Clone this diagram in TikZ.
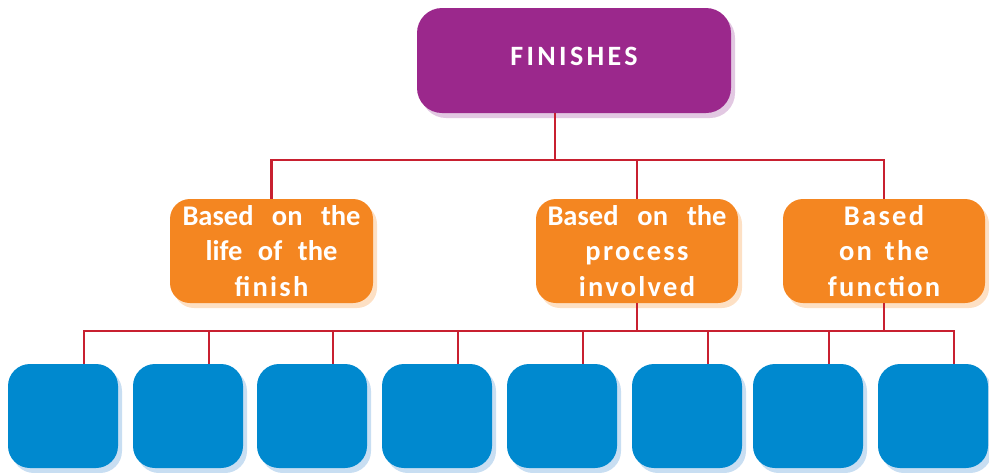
\documentclass[tikz,border=0pt]{standalone}
\usepackage{fontspec}
\setmainfont{Carlito}
\usetikzlibrary{shadows}
\definecolor{fpurple}{RGB}{155,40,140}
\definecolor{fpurpleS}{RGB}{226,200,226}
\definecolor{forange}{RGB}{244,134,33}
\definecolor{forangeS}{RGB}{253,224,196}
\definecolor{fblue}{RGB}{0,137,207}
\definecolor{fblueS}{RGB}{200,222,242}
\definecolor{fred}{RGB}{200,32,48}
\newcommand{\lsp}[1]{{\addfontfeature{LetterSpace=8}#1}}
\newcommand{\tsp}[1]{{\addfontfeature{LetterSpace=12}#1}}
\tikzset{
  topbox/.style={fill=fpurple, rounded corners=25pt, minimum width=314pt, minimum height=105pt,
    inner sep=0pt, text=white, font={\fontsize{28}{34}\selectfont\bfseries}, text depth=9pt,
    drop shadow={shadow xshift=4pt, shadow yshift=-5pt, fill=fpurpleS, opacity=1}},
  obox/.style={fill=forange, rounded corners=20pt, minimum width=202pt, minimum height=104pt,
    inner sep=0pt, text=white, align=center, font={\fontsize{28.5}{35.5}\selectfont\bfseries},
    drop shadow={shadow xshift=4pt, shadow yshift=-5pt, fill=forangeS, opacity=1}},
  bbox/.style={fill=fblue, rounded corners=22pt, minimum width=110pt, minimum height=104pt,
    inner sep=0pt, drop shadow={shadow xshift=4pt, shadow yshift=-5pt, fill=fblueS, opacity=1}},
  conn/.style={draw=fred, line width=2.2pt, line join=miter}
}
\begin{document}
\begin{tikzpicture}[x=1pt,y=-1pt]
\useasboundingbox (0,0) rectangle (989,472);
\node[topbox] (fin) at (574,60.5) {\tsp{FINISHES}};
\node[obox, minimum width=203pt] (o1) at (271.5,251)
  {\makebox[178pt][s]{Based on the}\\\makebox[132pt][s]{life of the}\\\lsp{finish}};
\node[obox] (o2) at (637,251)
  {\makebox[179pt][s]{Based on the}\\\lsp{process}\\\lsp{involved}};
\node[obox] (o3) at (884,251)
  {\lsp{Based}\\\makebox[90pt][s]{\lsp{on the}}\\\lsp{function}};
\foreach \i/\cx in {1/63,2/188,3/312,4/437,5/562,6/687,7/808,8/933}{
  \node[bbox] (b\i) at (\cx,416) {};
  \coordinate (j\i) at (\cx+21,331);
}
\coordinate (t0) at (555,160);
% top level connectors
\draw[conn] (fin.south -| t0) -- (t0);
\draw[conn] (o1.north) -- (o1.north |- t0) -- (o3.north |- t0) -- (o3.north);
\draw[conn] (o2.north) -- (o2.north |- t0);
% bottom bus
\draw[conn] (j1 |- b1.north) -- (j1) -- (j8) -- (j8 |- b8.north);
\foreach \i in {2,...,7}{
  \draw[conn] (j\i) -- (j\i |- b\i.north);
}
\draw[conn] (o2.south) -- (o2.south |- j1);
\draw[conn] (o3.south) -- (o3.south |- j1);
\end{tikzpicture}
\end{document}
